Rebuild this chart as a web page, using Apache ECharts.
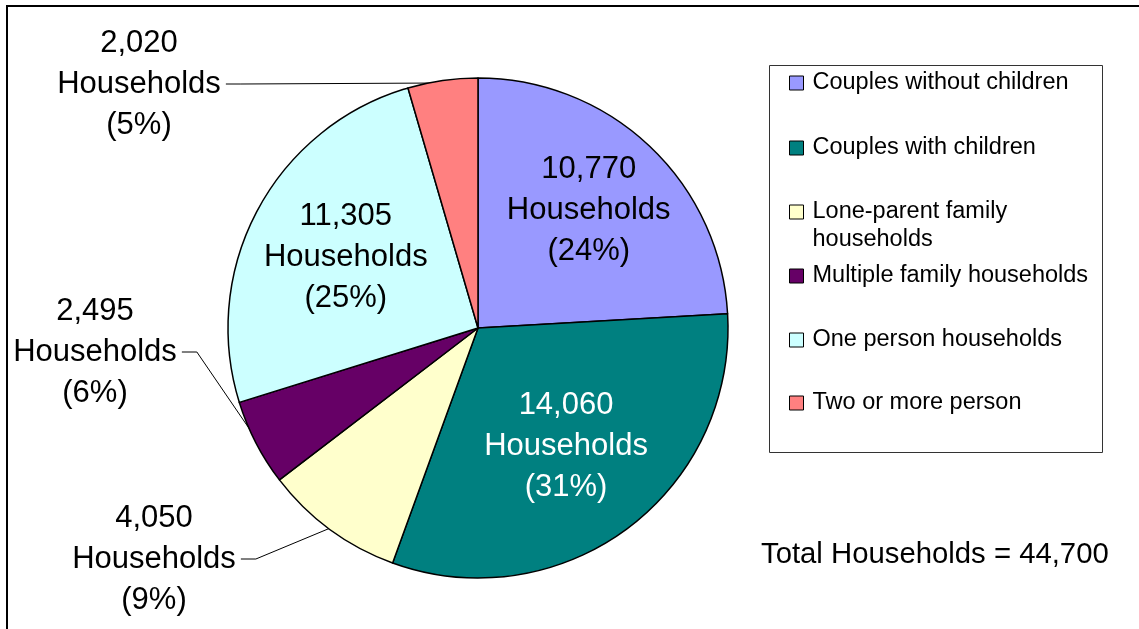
<!DOCTYPE html>
<html><head><meta charset="utf-8">
<script src="https://cdn.jsdelivr.net/npm/echarts@6/dist/echarts.min.js"></script>
<style>html,body{margin:0;padding:0;background:#fff}#chart{width:1139px;height:629px}</style>
</head><body><div id="chart"></div>
<script>
// ---- data ----
const categories = ['Couples without children','Couples with children','Lone-parent family households','Multiple family households','One person households','Two or more person'];
const values = [10770, 14060, 4050, 2495, 11305, 2020];
const legendLabels = ['Couples without children','Couples with children','Lone-parent family\nhouseholds','Multiple family households','One person households','Two or more person'];
const unitLabel = 'Households';
const totalLabel = 'Total Households = 44,700';

// ---- style / layout ----
const colors = ['#9999FF','#008080','#FFFFCC','#660066','#CCFFFF','#FF8080'];
const FONT = "'Liberation Sans', Arial, Helvetica, sans-serif";
const CX = 478, CY = 328, R = 250;
const insideRadius = {0: 0.645, 1: 0.59, 4: 0.6};
const outsideLabelCenter = {2: [154, 559], 3: [95, 352], 5: [139, 84]};
const legendRowCenters = [83, 148, 212, 276, 340, 403];

const total = values.reduce((a, b) => a + b, 0);
const cum = []; let acc = 0; values.forEach(v => { cum.push(acc); acc += v; });
function midAngle(i) { return (cum[i] + values[i] / 2) / total * 2 * Math.PI; }
function polar(a, r) { return [CX + r * Math.sin(a), CY - r * Math.cos(a)]; }
function fmt(v) { return v.toLocaleString('en-US'); }

const pieData = categories.map((name, i) => ({
  name, value: values[i],
  itemStyle: {color: colors[i]},
  label: {position: (i in insideRadius) ? 'inside' : 'outside', color: i === 1 ? '#ffffff' : '#000000'},
  labelLine: {show: !(i in insideRadius)}
}));

const legends = categories.map((name, i) => {
  const twoLine = legendLabels[i].indexOf('\n') >= 0;
  return {
    data: [name], orient: 'vertical', left: 789, top: legendRowCenters[i] - 14,
    padding: 0, selectedMode: false,
    itemWidth: 14, itemHeight: twoLine ? 42 : 14,
    icon: twoLine ? 'path://M0,0L14,0L14,14L0,14Z M0,42' : 'rect',
    itemStyle: {borderColor: '#000', borderWidth: 1},
    formatter: () => legendLabels[i],
    textStyle: {fontSize: 23.5, fontFamily: FONT, color: '#000', lineHeight: 28, padding: [0, 0, 0, 4]}
  };
});

const chart = echarts.init(document.getElementById('chart'), null, {renderer: 'canvas'});
chart.setOption({
  backgroundColor: '#ffffff',
  animation: false,
  legend: legends,
  graphic: [
    {type: 'rect', z: -10, shape: {x: 7, y: 6, width: 1300, height: 800}, style: {fill: 'none', stroke: '#000', lineWidth: 2}},
    {type: 'rect', z: -10, shape: {x: 769.5, y: 65.5, width: 333, height: 387}, style: {fill: 'none', stroke: '#333', lineWidth: 1}},
    {type: 'text', x: 761, y: 555, style: {text: totalLabel, fontSize: 29.3, fontFamily: FONT, fill: '#000', verticalAlign: 'middle'}}
  ],
  series: [{
    type: 'pie',
    center: [CX, CY], radius: R,
    startAngle: 90, clockwise: true,
    avoidLabelOverlap: false,
    silent: true,
    emphasis: {disabled: true},
    itemStyle: {borderColor: '#000', borderWidth: 1.5},
    label: {
      fontSize: 31, lineHeight: 41, fontFamily: FONT, align: 'center',
      formatter: p => fmt(p.value) + '\n' + unitLabel + '\n(' + Math.round(p.value / total * 100) + '%)'
    },
    labelLine: {lineStyle: {color: '#000', width: 1}, length: 15, length2: 15},
    labelLayout: function (p) {
      const i = p.dataIndex; const a = midAngle(i);
      if (insideRadius[i] !== undefined) {
        const pt = polar(a, insideRadius[i] * R);
        return {x: pt[0], y: pt[1], align: 'center', verticalAlign: 'middle'};
      }
      const c = outsideLabelCenter[i];
      const edge = c[0] + p.labelRect.width / 2;
      return {x: c[0], y: c[1], align: 'center', verticalAlign: 'middle',
        labelLinePoints: [polar(a, R * 0.99), [edge + 20, c[1]], [edge + 5, c[1]]]};
    },
    data: pieData
  }]
});
</script></body></html>
